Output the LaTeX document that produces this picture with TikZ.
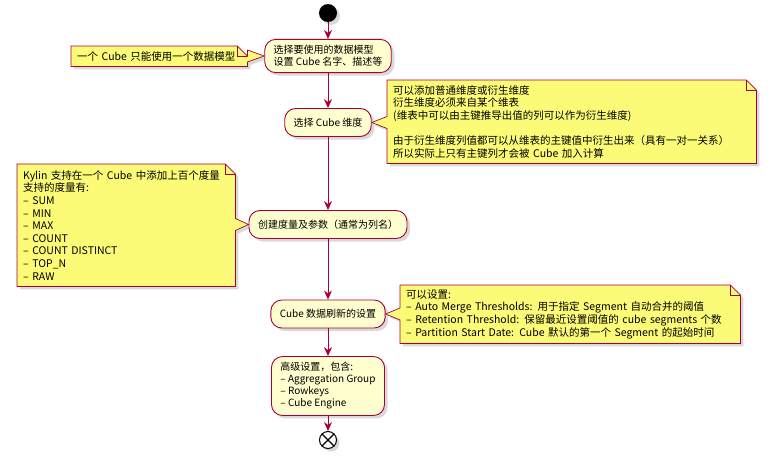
\documentclass[tikz,border=0pt]{standalone}
\usepackage{fontspec}
\setmainfont{Noto Sans CJK SC}
\usetikzlibrary{arrows.meta,calc,shadows,backgrounds}

\definecolor{umlred}{HTML}{A80036}
\definecolor{actfill}{HTML}{FEFECE}
\definecolor{notefill}{HTML}{FBFB77}

\tikzset{
  umlshadow/.style={drop shadow={shadow xshift=3pt,shadow yshift=-3pt,opacity=0.3}},
  act/.style={draw=umlred,fill=actfill,line width=0.9pt,rounded corners=11pt,
    inner xsep=9pt,inner ysep=6pt,minimum height=28pt,align=left,
    font=\fontsize{10}{12}\selectfont,umlshadow},
  notetxt/.style={anchor=north west,inner xsep=6pt,inner ysep=0pt,align=left,
    font=\fontsize{10.5}{12.6}\selectfont},
  noteline/.style={draw=umlred,fill=notefill,line width=0.7pt,umlshadow},
  flow/.style={draw=umlred,line width=0.9pt,-{Stealth[length=9pt,width=8pt,inset=3pt]}},
}

% 注释框：#1 注释结点，#2 活动结点（在右侧）
\newcommand\noteright[2]{%
  \path[noteline] (#1.north west) -- ($(#1.north east)+(-10,0)$) -- ($(#1.north east)+(0,10)$)
    -- ($(#1.east |- #2.west)+(0,-6)$) -- (#2.west) -- ($(#1.east |- #2.west)+(0,6)$)
    -- (#1.south east) -- (#1.south west) -- cycle;
  \draw[umlred,line width=0.7pt] ($(#1.north east)+(-10,0)$) |- ($(#1.north east)+(0,10)$);
}
% 注释框：#1 注释结点，#2 活动结点（在左侧）
\newcommand\noteleft[2]{%
  \path[noteline] (#1.north west) -- ($(#1.north east)+(-10,0)$) -- ($(#1.north east)+(0,10)$)
    -- (#1.south east) -- (#1.south west)
    -- ($(#1.west |- #2.east)+(0,6)$) -- (#2.east) -- ($(#1.west |- #2.east)+(0,-6)$) -- cycle;
  \draw[umlred,line width=0.7pt] ($(#1.north east)+(-10,0)$) |- ($(#1.north east)+(0,10)$);
}

\begin{document}
\begin{tikzpicture}[x=1pt,y=-1pt]
  \useasboundingbox (0,0) rectangle (779,458);
  % 起点与终点
  \node[circle,fill=black,minimum size=18pt,inner sep=0pt,umlshadow] (start) at (328,13) {};
  \node[circle,draw=black,fill=white,line width=1pt,minimum size=17pt,inner sep=0pt,umlshadow] (stop) at (328,440) {};
  \draw[line width=1.2pt] (stop.north west) -- (stop.south east) (stop.north east) -- (stop.south west);
  % 活动
  \node[act] (model) at (328,56) {选择要使用的数据模型\\设置 Cube 名字、描述等};
  \node[act] (dims) at (328,122.5) {选择 Cube 维度};
  \node[act] (measures) at (328,224.5) {创建度量及参数（通常为列名）};
  \node[act] (refresh) at (328,314) {Cube 数据刷新的设置};
  \node[act] (advanced) at (328,386) {高级设置，包含:\\– Aggregation Group\\– Rowkeys\\– Cube Engine};
  % 流程箭头
  \draw[flow] (start) -- (model);
  \draw[flow] (model) -- (dims);
  \draw[flow] (dims) -- (measures);
  \draw[flow] (measures) -- (refresh);
  \draw[flow] (refresh) -- (advanced);
  \draw[flow] (advanced) -- (stop);
  % 注释
  \node[notetxt,text width=164pt,minimum height=20pt] (modelnote) at (71,46) {一个 Cube 只能使用一个数据模型};
  \node[notetxt,text width=357pt,minimum height=83pt] (dimsnote) at (387,80)
    {可以添加普通维度或衍生维度\\衍生维度必须来自某个维表\\(维表中可以由主键推导出值的列可以作为衍生维度)\\[12.6pt]
     由于衍生维度列值都可以从维表的主键值中衍生出来（具有一对一关系）\\所以实际上只有主键列才会被 Cube 加入计算};
  \node[notetxt,text width=206pt,minimum height=122pt] (measuresnote) at (17,164)
    {Kylin 支持在一个 Cube 中添加上百个度量\\支持的度量有:\\– SUM\\– MIN\\– MAX\\– COUNT\\– COUNT DISTINCT\\– TOP\_N\\– RAW};
  \node[notetxt,text width=328pt,minimum height=58pt] (refreshnote) at (400,285)
    {可以设置:\\– Auto Merge Thresholds: 用于指定 Segment 自动合并的阈值\\– Retention Threshold: 保留最近设置阈值的 cube segments 个数\\– Partition Start Date: Cube 默认的第一个 Segment 的起始时间};
  \begin{scope}[on background layer]
    \noteright{modelnote}{model}
    \noteleft{dimsnote}{dims}
    \noteright{measuresnote}{measures}
    \noteleft{refreshnote}{refresh}
  \end{scope}
\end{tikzpicture}
\end{document}
